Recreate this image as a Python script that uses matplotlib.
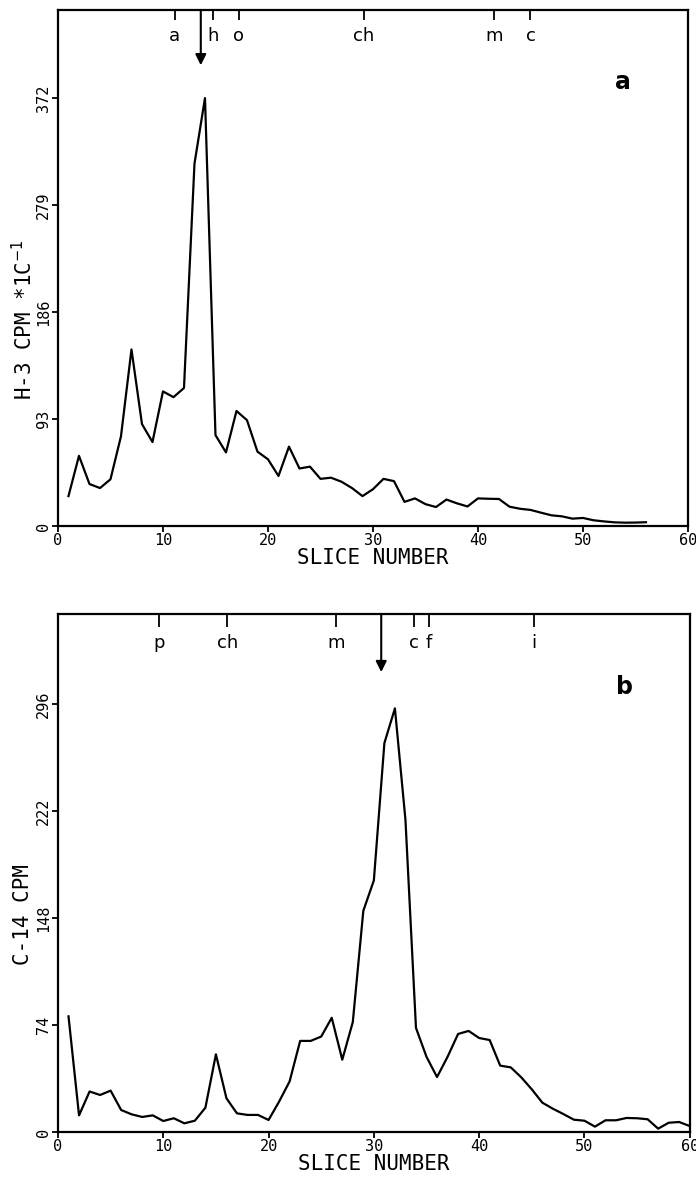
import numpy as np
import matplotlib
matplotlib.use("Agg")
import matplotlib.pyplot as plt

# ---------------- data ----------------
slices_a = list(range(1, 57))
h3_cpm = [26, 61, 36.5, 33, 40.6, 78, 153.5, 88.6, 73, 117,
          112, 120, 315, 372, 79, 64, 100, 92, 64.6, 58,
          43.5, 69, 50, 51.6, 41, 42, 38.5, 33, 26, 32,
          41, 39, 21, 24, 19, 16.5, 23, 19.7, 17, 24,
          23.7, 23.5, 16.8, 15, 14, 11.6, 9.3, 8.4, 6.4, 7,
          5, 4, 3.2, 2.9, 3, 3.3]

slices_b = list(range(1, 61))
c14_cpm = [80, 11.5, 28, 25.6, 28.6, 15.2, 12.2, 10.4, 11.5, 7.6,
           9.5, 6, 7.8, 16.8, 53.7, 23.3, 12.9, 11.8, 11.8, 8.3,
           21, 35, 63, 63, 66, 79, 50, 76, 153, 174,
           269, 293, 216, 72, 52, 38, 52, 67.8, 69.9, 65,
           63.6, 45.9, 44.7, 37.8, 29.5, 20.3, 16.1, 12.4, 8.5, 7.8,
           3.7, 8.1, 8.1, 9.7, 9.5, 8.8, 2.3, 6.4, 6.9, 4.1]

xticks = [0, 10, 20, 30, 40, 50, 60]
yticks_a = [0, 93, 186, 279, 372]
yticks_b = [0, 74, 148, 222, 296]

markers_a = ['a', 'h', 'o', 'ch', 'm', 'c']
marker_pos_a = [11.1, 14.8, 17.2, 29.1, 41.5, 45.0]
arrow_a = 13.6

markers_b = ['p', 'ch', 'm', 'c', 'f', 'i']
marker_pos_b = [9.6, 16.1, 26.4, 33.8, 35.2, 45.2]
arrow_b = 30.7

# ---------------- figure ----------------
fig = plt.figure(figsize=(6.96, 11.81), dpi=100)
ax_a = fig.add_axes([0.0833, 0.5546, 0.9052, 0.4369])
ax_b = fig.add_axes([0.0833, 0.0415, 0.9077, 0.4385])

mono = 'DejaVu Sans Mono'
sans = 'DejaVu Sans'


def style(ax, yticks, ymax, ylabel, ylabel_y, markers, mpos, arrow_x,
          tick_top, label_y, arrow_tip, letter):
    ax.set_xlim(0, 60)
    ax.set_ylim(0, ymax)
    for s in ax.spines.values():
        s.set_linewidth(1.6)
    ax.set_xticks(xticks)
    ax.set_xticklabels([str(t) for t in xticks], family=mono, fontsize=11)
    ax.set_yticks(yticks)
    ax.set_yticklabels([str(t) for t in yticks], family=mono, fontsize=11,
                       rotation=90, va='center')
    ax.tick_params(direction='out', length=4, width=1.3, pad=1)
    ax.set_xlabel('SLICE NUMBER', family=mono, fontsize=15, labelpad=0)
    ax.text(-0.055, ylabel_y, ylabel, transform=ax.transAxes, rotation=90,
            ha='center', va='center', family=mono, fontsize=15)
    tr = ax.get_xaxis_transform()
    ax.vlines(mpos, tick_top, 1.0, transform=tr, color='black', lw=1.3)
    for lab, xp in zip(markers, mpos):
        ax.text(xp, label_y, lab, transform=tr, ha='center', va='center',
                family=sans, fontsize=13)
    ax.annotate('', xy=(arrow_x, arrow_tip), xycoords=tr,
                xytext=(arrow_x, 1.0), textcoords=tr,
                arrowprops=dict(arrowstyle='-|>', color='black', lw=1.5,
                                mutation_scale=16, shrinkA=0, shrinkB=0))
    ax.text(0.897, 0.86, letter, transform=ax.transAxes, ha='center',
            va='center', family=sans, fontsize=17, fontweight='bold')


ax_a.plot(slices_a, h3_cpm, color='black', lw=1.6)
style(ax_a, yticks_a, 448.5, 'H-3 CPM *1C$^{-1}$', 0.40,
      markers_a, marker_pos_a, arrow_a, 0.981, 0.950, 0.893, 'a')

ax_b.plot(slices_b, c14_cpm, color='black', lw=1.6)
style(ax_b, yticks_b, 358.2, 'C-14 CPM', 0.42,
      markers_b, marker_pos_b, arrow_b, 0.975, 0.944, 0.888, 'b')

fig.savefig('out.png', dpi=100)
